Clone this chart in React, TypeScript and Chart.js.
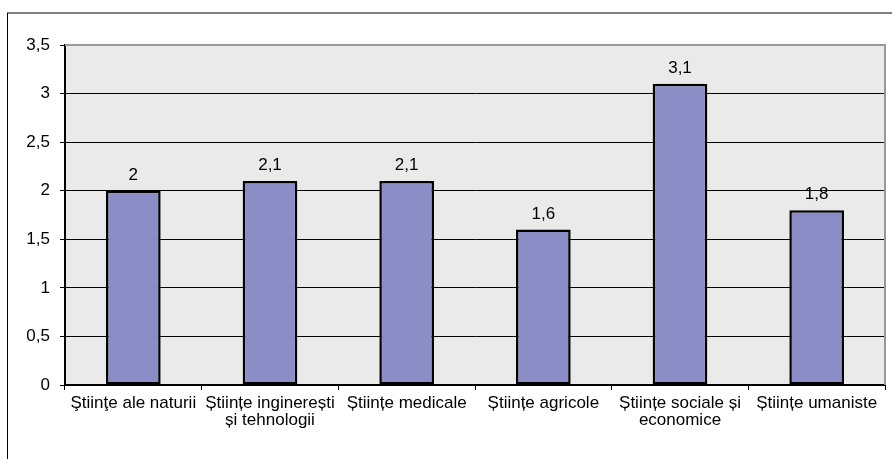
import React, { useEffect, useRef } from "react";
import { Chart, registerables } from "chart.js";

Chart.register(...registerables);

const categories: (string | string[])[] = [
  "Ştiinţe ale naturii",
  ["Științe inginerești", "și tehnologii"],
  "Științe medicale",
  "Științe agricole",
  ["Științe sociale și", "economice"],
  "Științe umaniste",
];
const values: number[] = [2, 2.1, 2.1, 1.6, 3.1, 1.8];
const yMin = 0;
const yMax = 3.5;
const yStep = 0.5;

const FONT = "Arial, 'Liberation Sans', sans-serif";
const FS = 17;
const fmt = (v: number) => String(v).replace(".", ",");

const framePlugin = {
  id: "frame",
  beforeDraw(chart: any) {
    const { ctx, chartArea } = chart;
    ctx.save();
    ctx.fillStyle = "#ffffff";
    ctx.fillRect(0, 0, chart.width, chart.height);
    ctx.strokeStyle = "#7f7f7f";
    ctx.lineWidth = 2;
    ctx.beginPath();
    ctx.moveTo(7, 13);
    ctx.lineTo(chart.width, 13);
    ctx.stroke();
    ctx.strokeStyle = "#000000";
    ctx.lineWidth = 1;
    ctx.beginPath();
    ctx.moveTo(7.5, 13);
    ctx.lineTo(7.5, chart.height);
    ctx.stroke();
    ctx.fillStyle = "#eaeaea";
    ctx.fillRect(chartArea.left, chartArea.top, chartArea.right - chartArea.left, chartArea.bottom - chartArea.top);
    ctx.restore();
  },
  afterDatasetsDraw(chart: any) {
    const { ctx, chartArea } = chart;
    ctx.save();
    ctx.strokeStyle = "#999999";
    ctx.lineWidth = 2;
    ctx.beginPath();
    ctx.moveTo(chartArea.left, chartArea.top);
    ctx.lineTo(chartArea.right, chartArea.top);
    ctx.lineTo(chartArea.right, chartArea.bottom);
    ctx.stroke();
    ctx.fillStyle = "#000000";
    ctx.font = `${FS}px ${FONT}`;
    ctx.textAlign = "center";
    ctx.textBaseline = "alphabetic";
    const meta = chart.getDatasetMeta(0);
    meta.data.forEach((bar: any, i: number) => {
      ctx.fillText(fmt(values[i]), bar.x, bar.y - 11);
    });
    ctx.restore();
  },
};

export default function App() {
  const ref = useRef<HTMLCanvasElement | null>(null);
  useEffect(() => {
    if (!ref.current) return;
    const chart = new Chart(ref.current, {
      type: "bar",
      data: {
        labels: categories,
        datasets: [
          {
            data: values,
            backgroundColor: "#8b8dc6",
            borderColor: "#000000",
            borderWidth: 2.5,
            borderSkipped: false,
            categoryPercentage: 1,
            barPercentage: 0.4,
          },
        ],
      },
      options: {
        responsive: false,
        animation: false,
        layout: { padding: { left: 0, top: 45, right: 7, bottom: 0 } },
        plugins: { legend: { display: false }, tooltip: { enabled: false } },
        scales: {
          x: {
            offset: true,
            grid: {
              offset: true,
              drawOnChartArea: false,
              drawTicks: true,
              tickLength: 5,
              color: "#000000",
              lineWidth: 1,
            },
            border: { display: true, color: "#000000", width: 2 },
            ticks: {
              color: "#000000",
              font: { family: FONT, size: FS, lineHeight: 1.0 },
              padding: 5,
              maxRotation: 0,
              autoSkip: false,
            },
            afterFit: (s: any) => {
              s.height = 74;
            },
          },
          y: {
            min: yMin,
            max: yMax,
            grid: {
              color: (c: any) => (c.tick && c.tick.value === yMax ? "#999999" : "#000000"),
              tickColor: "#000000",
              lineWidth: 1,
              tickLength: 5,
            },
            border: { display: true, color: "#000000", width: 2 },
            ticks: {
              stepSize: yStep,
              color: "#000000",
              font: { family: FONT, size: FS },
              padding: 10,
              callback: (v: any) => fmt(Number(v)),
            },
            afterFit: (s: any) => {
              s.width = 65;
            },
          },
        },
      },
      plugins: [framePlugin],
    });
    return () => chart.destroy();
  }, []);
  return (
    <div style={{ position: "absolute", left: 0, top: 0, width: 892, height: 459 }}>
      <canvas ref={ref} width={892} height={459} style={{ display: "block" }} />
    </div>
  );
}
